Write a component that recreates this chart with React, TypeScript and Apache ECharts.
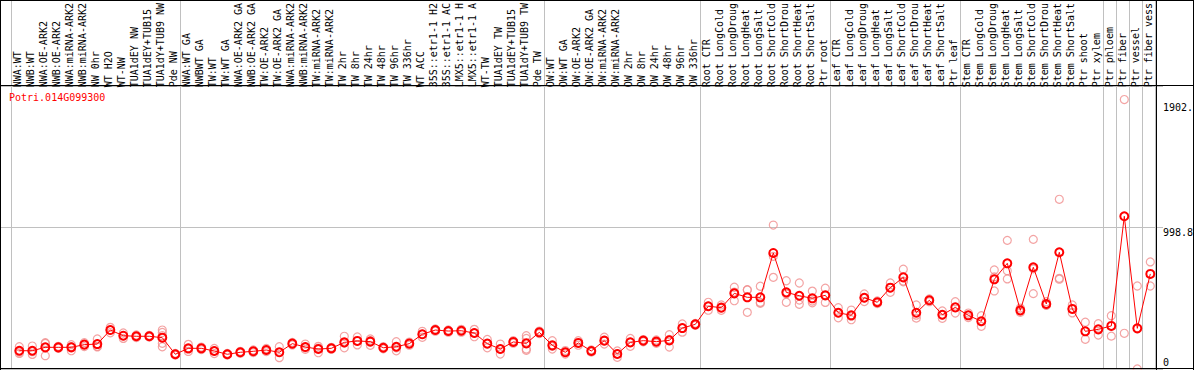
import React, { useEffect, useRef } from "react";
import * as echarts from "echarts";

const geneId = "Potri.014G099300";

const categories = [
  "NWA:WT", "NWB:WT", "NWA:OE-ARK2", "NWB:OE-ARK2", "NWA:miRNA-ARK2", "NWB:miRNA-ARK2",
  "NW 0hr", "WT H2O", "WT-NW", "TUA1dEY NW", "TUA1dEY+TUB15", "TUA1dY+TUB9 NW", "Pde NW",
  "NWA:WT GA", "NWBWT GA", "TW:WT", "TW:WT GA", "NWA:OE-ARK2 GA", "NWB:OE-ARK2 GA",
  "TW:OE-ARK2", "TW:OE-ARK2 GA", "NWA:miRNA-ARK2", "NWB:miRNA-ARK2", "TW:miRNA-ARK2",
  "TW:miRNA-ARK2", "TW 2hr", "TW 8hr", "TW 24hr", "TW 48hr", "TW 96hr", "TW 336hr",
  "WT ACC", "35S::etr1-1 H2", "35S::etr1-1 AC", "LMX5::etr1-1 H", "LMX5::etr1-1 A",
  "WT-TW", "TUA1dEY TW", "TUA1dEY+TUB15", "TUA1dY+TUB9 TW", "Pde TW",
  "OW:WT", "OW:WT GA", "OW:OE-ARK2", "OW:OE-ARK2 GA", "OW:miRNA-ARK2", "OW:miRNA-ARK2",
  "OW 2hr", "OW 8hr", "OW 24hr", "OW 48hr", "OW 96hr", "OW 336hr",
  "Root CTR", "Root LongCold", "Root LongDroug", "Root LongHeat", "Root LongSalt",
  "Root ShortCold", "Root ShortDrou", "Root ShortHeat", "Root ShortSalt", "Ptr root",
  "Leaf CTR", "Leaf LongCold", "Leaf LongDroug", "Leaf LongHeat", "Leaf LongSalt",
  "Leaf ShortCold", "Leaf ShortDrou", "Leaf ShortHeat", "Leaf ShortSalt", "Ptr leaf",
  "Stem CTR", "Stem LongCold", "Stem LongDroug", "Stem LongHeat", "Stem LongSalt",
  "Stem ShortCold", "Stem ShortDrou", "Stem ShortHeat", "Stem ShortSalt", "Ptr shoot",
  "Ptr xylem", "Ptr phloem", "Ptr fiber", "Ptr vessel", "Ptr fiber vess",
];

const means = [
  129, 129, 153, 153, 153, 172, 176, 275, 235, 231, 231, 221, 104,
  146, 146, 127, 104, 118, 125, 134, 118, 179, 155, 141, 146, 188, 198, 193, 150, 157,
  179, 245, 275, 268, 270, 254, 179, 141, 191, 181, 259,
  167, 118, 184, 127, 200, 106, 188, 200, 193, 202, 289, 315,
  443, 433, 534, 506, 506, 819, 541, 517, 499, 520,
  397, 379, 503, 471, 574, 647, 397, 485, 383, 435,
  379, 337, 633, 746, 414, 718, 459, 824, 424, 266, 280,
  304, 1078, 287, 671,
];

const replicates: number[][] = [
  [157, 120, 110], [162, 122, 103], [186, 180, 94], [160, 153, 146], [172, 158, 129],
  [186, 172, 158], [212, 160, 156], [294, 275, 256], [254, 235, 216], [240, 231, 222],
  [238, 230, 225], [275, 258, 235, 181, 157], [110, 104, 98],
  [174, 140, 124], [155, 146, 137], [145, 127, 109], [110, 104, 98], [125, 118, 111],
  [134, 125, 116], [145, 134, 123], [157, 118, 80], [188, 179, 170], [176, 150, 139],
  [160, 148, 115], [153, 146, 139], [231, 183, 150], [226, 198, 170], [212, 200, 167],
  [158, 150, 142], [193, 150, 128], [190, 179, 168], [266, 245, 224], [283, 275, 267],
  [276, 268, 260], [280, 270, 260], [280, 254, 228], [209, 179, 150], [176, 141, 106],
  [200, 191, 182], [235, 216, 141, 132], [268, 259, 250],
  [200, 160, 141], [130, 118, 106], [200, 184, 168], [135, 127, 119], [224, 200, 176],
  [127, 108, 83], [216, 188, 160], [208, 200, 192], [205, 193, 181], [242, 209, 155],
  [318, 289, 260], [322, 315, 308],
  [471, 443, 415], [452, 433, 414], [577, 543, 482], [558, 560, 400], [584, 470, 464],
  [1016, 795, 647], [623, 530, 471], [607, 487, 457], [550, 480, 467], [570, 470],
  [433, 397, 361], [416, 373, 348], [530, 503, 476], [480, 471, 462], [607, 574, 541],
  [704, 621, 616], [452, 380, 359], [495, 485, 475], [410, 381, 358], [475, 395],
  [395, 379, 363], [376, 334, 301], [699, 650, 551], [908, 694, 636], [430, 400, 412],
  [915, 707, 532], [475, 450, 452], [1198, 640, 634], [452, 424, 396], [330, 210],
  [320, 240], [376, 232], [1902, 252], [586, 0], [756, 586],
];

// first category index of each group (separator drawn on its left edge)
const groupStarts = [0, 13, 41, 53, 63, 73, 84, 85, 86, 87];

const yMax = 1997.6;
const yMid = 998.8;
const yTickLabels = ["1902.", "998.8", "0"];

export default function App() {
  const ref = useRef<HTMLDivElement>(null);

  useEffect(() => {
    document.body.style.margin = "0";
    const chart = echarts.init(ref.current!, null, { renderer: "svg" });
    const font = "DejaVu Sans Mono";
    const repData: number[][] = [];
    replicates.forEach((reps, i) => reps.forEach((v) => repData.push([i, v])));

    chart.setOption({
      animation: false,
      backgroundColor: "#ffffff",
      grid: [
        { left: 11, top: 0, width: 1144, height: 369 },
        { left: 11, top: 85, width: 1144, height: 284 },
        { left: 0, top: 86, width: 1163, height: 283 },
        { left: 12.8, top: 86, width: 1144, height: 283 },
      ],
      xAxis: [
        {
          gridIndex: 0, type: "category", data: categories, boundaryGap: true,
          axisLine: { show: false }, axisTick: { show: false }, axisLabel: { show: false },
          splitLine: {
            show: true,
            interval: (i: number) => groupStarts.indexOf(i) >= 0,
            lineStyle: { color: "#c0c0c0", width: 1 },
          },
        },
        {
          gridIndex: 1, type: "category", data: categories, position: "top",
          axisLine: { show: false }, axisTick: { show: false }, splitLine: { show: false },
          axisLabel: { interval: 0, rotate: 90, margin: 2, fontFamily: font, fontSize: 10, color: "#000000" },
        },
        { gridIndex: 2, type: "value", show: false },
        { gridIndex: 3, type: "category", data: categories, show: false },
      ],
      yAxis: [
        { gridIndex: 0, type: "value", show: false },
        { gridIndex: 1, type: "value", show: false },
        {
          gridIndex: 2, type: "value", min: 0, max: yMax, interval: yMid,
          axisLine: { show: false }, axisTick: { show: false }, axisLabel: { show: false },
          splitLine: { show: true, lineStyle: { color: "#c0c0c0", width: 1 } },
        },
        { gridIndex: 3, type: "value", min: 0, max: yMax, show: false },
      ],
      series: [
        {
          type: "scatter", xAxisIndex: 3, yAxisIndex: 3, data: repData,
          symbol: "circle", symbolSize: 8, z: 2,
          itemStyle: { color: "rgba(0,0,0,0)", borderColor: "#f08c8c", borderWidth: 1.2 },
        },
        {
          type: "line", xAxisIndex: 3, yAxisIndex: 3, data: means,
          symbol: "circle", symbolSize: 8, showAllSymbol: true, z: 3,
          lineStyle: { color: "#ff0000", width: 1 },
          itemStyle: { color: "rgba(0,0,0,0)", borderColor: "#ff0000", borderWidth: 2 },
        },
      ],
      graphic: [
        { type: "text", x: 9, y: 97, z: 10, style: { text: geneId, fill: "#ff0000", font: `10px '${font}'`, verticalAlign: "middle" } },
        { type: "text", x: 1163, y: 102, z: 10, style: { text: yTickLabels[0], fill: "#000", font: `10px '${font}'`, verticalAlign: "top" } },
        { type: "text", x: 1163, y: 227, z: 10, style: { text: yTickLabels[1], fill: "#000", font: `10px '${font}'`, verticalAlign: "top" } },
        { type: "text", x: 1163, y: 357, z: 10, style: { text: yTickLabels[2], fill: "#000", font: `10px '${font}'`, verticalAlign: "top" } },
        { type: "line", z: 10, shape: { x1: 0, y1: 85.5, x2: 1194, y2: 85.5 }, style: { stroke: "#000", lineWidth: 1 } },
        { type: "line", z: 10, shape: { x1: 0, y1: 0.5, x2: 1194, y2: 0.5 }, style: { stroke: "#000", lineWidth: 1 } },
        { type: "line", z: 10, shape: { x1: 0, y1: 368.5, x2: 1194, y2: 368.5 }, style: { stroke: "#000", lineWidth: 1 } },
        { type: "line", z: 10, shape: { x1: 0.5, y1: 0, x2: 0.5, y2: 370 }, style: { stroke: "#000", lineWidth: 1 } },
        { type: "line", z: 10, shape: { x1: 1193.5, y1: 0, x2: 1193.5, y2: 370 }, style: { stroke: "#000", lineWidth: 1 } },
        { type: "line", z: 10, shape: { x1: 1156.5, y1: 0, x2: 1156.5, y2: 370 }, style: { stroke: "#000", lineWidth: 1 } },
      ],
    });
    return () => chart.dispose();
  }, []);

  return <div ref={ref} style={{ position: "absolute", left: 0, top: 0, width: 1194, height: 370 }} />;
}
